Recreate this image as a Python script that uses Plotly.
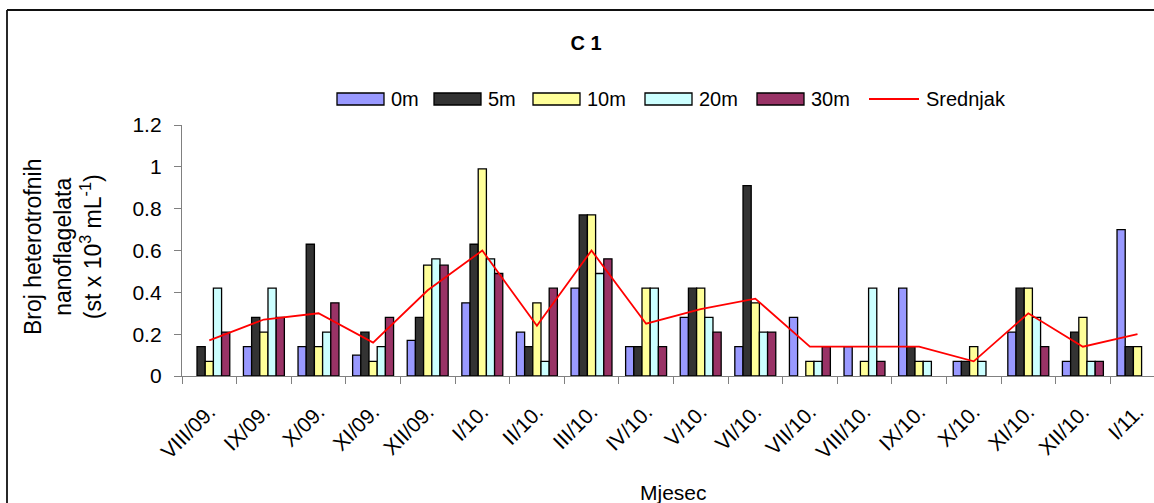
import plotly.graph_objects as go

months = ["VIII/09.", "IX/09.", "X/09.", "XI/09.", "XII/09.", "I/10.", "II/10.", "III/10.",
          "IV/10.", "V/10.", "VI/10.", "VII/10.", "VIII/10.", "IX/10.", "X/10.", "XI/10.",
          "XII/10.", "I/11."]
d0m = [None, 0.14, 0.14, 0.10, 0.17, 0.35, 0.21, 0.42, 0.14, 0.28, 0.14, 0.28, 0.14, 0.42, 0.07, 0.21, 0.07, 0.70]
d5m = [0.14, 0.28, 0.63, 0.21, 0.28, 0.63, 0.14, 0.77, 0.14, 0.42, 0.91, None, None, 0.14, 0.07, 0.42, 0.21, 0.14]
d10m = [0.07, 0.21, 0.14, 0.07, 0.53, 0.99, 0.35, 0.77, 0.42, 0.42, 0.35, 0.07, 0.07, 0.07, 0.14, 0.42, 0.28, 0.14]
d20m = [0.42, 0.42, 0.21, 0.14, 0.56, 0.56, 0.07, 0.49, 0.42, 0.28, 0.21, 0.07, 0.42, 0.07, 0.07, 0.28, 0.07, None]
d30m = [0.21, 0.28, 0.35, 0.28, 0.53, 0.49, 0.42, 0.56, 0.14, 0.21, 0.21, 0.14, 0.07, None, None, 0.14, 0.07, None]
srednjak = [0.17, 0.27, 0.30, 0.16, 0.41, 0.60, 0.24, 0.60, 0.25, 0.32, 0.37, 0.14, 0.14, 0.14, 0.07, 0.30, 0.14, 0.20]
y_ticks = [0, 0.2, 0.4, 0.6, 0.8, 1.0, 1.2]
y_ticktext = ["0", "0.2", "0.4", "0.6", "0.8", "1", "1.2"]

series = [("0m", d0m, "#9999FF"), ("5m", d5m, "#333333"), ("10m", d10m, "#FFFF99"),
          ("20m", d20m, "#CCFFFF"), ("30m", d30m, "#993366")]

W, H = 1154, 503
L, R, T, B = 182, 0, 125, 127
PW, PH = W - L - R, H - T - B
CAT = 54.6
FONT = "Liberation Sans, Arial, sans-serif"


def px(x):
    return (x - L) / PW


def py(y):
    return (H - B - y) / PH


fig = go.Figure()
for name, vals, col in series:
    fig.add_trace(go.Bar(x=months, y=vals, name=name, marker=dict(color=col, line=dict(color="black", width=1.3)),
                         showlegend=False))
fig.add_trace(go.Scatter(x=months, y=srednjak, name="Srednjak", mode="lines",
                         line=dict(color="#FF0000", width=1.8), showlegend=False))

shapes = []
annotations = []
# outer chart border (its right and bottom sides lie outside the picture)
shapes.append(dict(type="line", xref="paper", yref="paper", x0=px(7), x1=px(1200), y0=py(10), y1=py(10),
                   line=dict(color="#111111", width=1.8)))
shapes.append(dict(type="line", xref="paper", yref="paper", x0=px(7), x1=px(7), y0=py(10), y1=py(560),
                   line=dict(color="#111111", width=1.8)))

# custom legend
leg_y0, leg_y1 = 93, 105
box_x = [337, 434, 533, 645, 757]
for (name, vals, col), bx in zip(series, box_x):
    shapes.append(dict(type="rect", xref="paper", yref="paper", x0=px(bx), x1=px(bx + 47),
                       y0=py(leg_y1), y1=py(leg_y0), fillcolor=col, line=dict(color="black", width=1.3)))
    annotations.append(dict(text=name, xref="paper", yref="paper", x=px(bx + 52), y=py(99), xanchor="left",
                            yanchor="middle", showarrow=False, font=dict(size=20, color="black", family=FONT)))
shapes.append(dict(type="line", xref="paper", yref="paper", x0=px(869), x1=px(919), y0=py(99), y1=py(99),
                   line=dict(color="#FF0000", width=1.8)))
annotations.append(dict(text="Srednjak", xref="paper", yref="paper", x=px(924), y=py(99), xanchor="left",
                        yanchor="middle", showarrow=False, font=dict(size=20, color="black", family=FONT)))

# axis titles
annotations.append(dict(text="Broj heterotrofnih<br>nanoflagelata<br>(st x 10<sup>3</sup> mL<sup>-1</sup>)",
                        xref="paper", yref="paper", x=px(63), y=py(247), textangle=-90, showarrow=False,
                        xanchor="center", yanchor="middle", align="center",
                        font=dict(size=23, color="black", family=FONT)))
annotations.append(dict(text="Mjesec", xref="paper", yref="paper", x=px(673), y=py(492), showarrow=False,
                        xanchor="center", yanchor="middle", font=dict(size=21, color="black", family=FONT)))

fig.update_layout(
    width=W, height=H,
    margin=dict(l=L, r=R, t=T, b=B),
    paper_bgcolor="white", plot_bgcolor="white",
    barmode="group", bargap=0.25, bargroupgap=0,
    title=dict(text="<b>C 1</b>", x=586 / W, xref="container", xanchor="center", y=1 - 43 / H,
               yref="container", yanchor="middle", font=dict(size=20, color="black", family=FONT)),
    font=dict(family=FONT, color="black", size=20),
    shapes=shapes, annotations=annotations,
    showlegend=False,
)
fig.update_xaxes(type="category", range=[-0.5, -0.5 + PW / CAT], tickson="boundaries", ticks="outside",
                 ticklen=7, tickcolor="#808080", showline=True, linecolor="#808080", linewidth=1.3,
                 tickangle=-45, tickfont=dict(size=21, color="black", family=FONT), showgrid=False,
                 zeroline=False, ticklabelstandoff=14)
fig.update_yaxes(range=[0, 1.2], tickvals=y_ticks, ticktext=y_ticktext, ticks="outside", ticklen=7,
                 tickcolor="#808080", showline=True, linecolor="#808080", linewidth=1.3, showgrid=False,
                 zeroline=False, tickfont=dict(size=21, color="black", family=FONT), ticklabelstandoff=8)

fig.write_html("out.html", config={"displayModeBar": False},
               post_script="document.body.style.margin='0';document.body.style.overflow='hidden';")
